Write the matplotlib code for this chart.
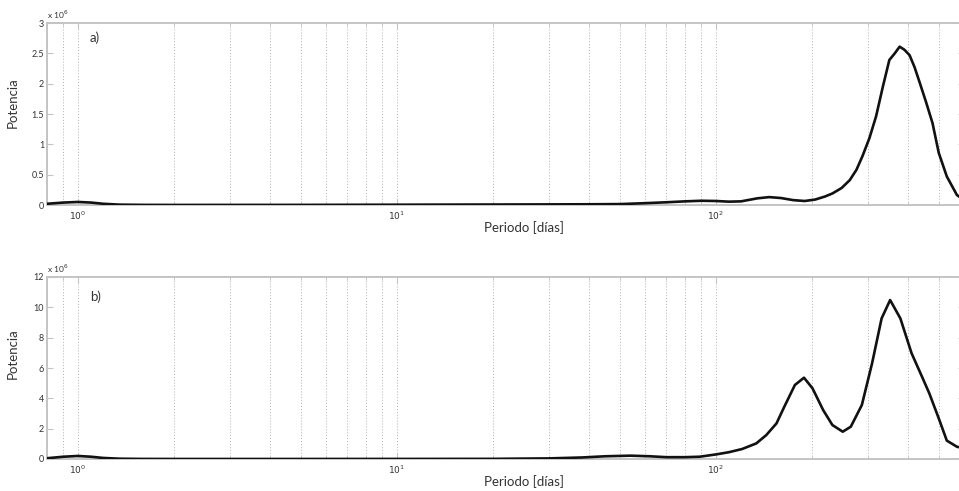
import matplotlib
matplotlib.use("Agg")
import matplotlib.pyplot as plt
from matplotlib.ticker import LogLocator, FixedLocator, FuncFormatter, NullFormatter
import numpy as np

plt.rcParams['font.family'] = ['Lato', 'DejaVu Sans']

# Panel a) : period [days] and power (x 1e6)
periodo_a = [0.8, 0.9, 1.0, 1.1, 1.2, 1.35, 1.6, 2, 5, 10, 20, 30, 40, 50, 60, 70, 80, 90,
             100, 110, 120, 135, 147, 160, 175, 190, 205, 220, 232, 248, 263, 276, 288, 303,
             318, 334, 350, 364, 377, 390, 405, 420, 435, 456, 478, 500, 530, 570, 600]
potencia_a = [0.02, 0.04, 0.05, 0.04, 0.02, 0.006, 0.002, 0.001, 0.002, 0.005, 0.008, 0.01, 0.012,
              0.015, 0.03, 0.045, 0.06, 0.07, 0.066, 0.055, 0.06, 0.11, 0.13, 0.115, 0.08, 0.066,
              0.09, 0.14, 0.19, 0.28, 0.41, 0.58, 0.80, 1.10, 1.46, 1.95, 2.39, 2.50, 2.61, 2.56,
              2.47, 2.27, 2.03, 1.70, 1.35, 0.86, 0.47, 0.165, 0.08]

# Panel b)
periodo_b = [0.8, 0.9, 1.0, 1.1, 1.2, 1.35, 1.6, 2, 5, 10, 20, 30, 38, 45, 54, 62, 70, 80, 89,
             100, 110, 121, 134, 144, 155, 164, 177, 189, 201, 217, 232, 250, 265, 287, 309,
             331, 352, 379, 411, 443, 467, 500, 530, 570, 600]
potencia_b = [0.05, 0.15, 0.2, 0.15, 0.07, 0.02, 0.005, 0.002, 0.002, 0.005, 0.01, 0.04, 0.1,
              0.18, 0.22, 0.18, 0.12, 0.12, 0.15, 0.3, 0.45, 0.66, 1.03, 1.58, 2.35, 3.45, 4.88,
              5.36, 4.66, 3.23, 2.24, 1.80, 2.13, 3.56, 6.31, 9.27, 10.48, 9.27, 6.97, 5.43,
              4.33, 2.68, 1.21, 0.81, 0.7]

yticks_a = [0, 0.5, 1, 1.5, 2, 2.5, 3]
yticks_b = [0, 2, 4, 6, 8, 10, 12]
xmajor = [1, 10, 100]
xlim = (0.8, 600)

W, H = 959, 491
fig = plt.figure(figsize=(W / 100, H / 100), dpi=100)

spine_c = '#c4c4c4'
text_c = '#333333'

def panel(rect, x, y, yticks, tag, ylab_y, tag_y):
    ax = fig.add_axes(rect)
    ax.plot(x, y, color='#111111', lw=1.9, zorder=3, clip_on=True)
    ax.set_xscale('log')
    ax.set_xlim(*xlim)
    ax.set_ylim(yticks[0], yticks[-1])
    ax.xaxis.set_major_locator(FixedLocator(xmajor))
    ax.xaxis.set_minor_locator(LogLocator(base=10, subs=np.arange(2, 10) / 1.0, numticks=20))
    ax.xaxis.set_minor_formatter(NullFormatter())
    ax.xaxis.set_major_formatter(FuncFormatter(lambda v, p: r'$10^{%d}$' % round(np.log10(v))))
    ax.set_yticks(yticks)
    ax.set_yticklabels([('%g' % t) for t in yticks])
    ax.grid(True, which='both', axis='x', linestyle=(0, (1, 2)), color='#b0b0b0', lw=0.7)
    for s in ax.spines.values():
        s.set_color(spine_c)
        s.set_linewidth(1.4)
    ax.tick_params(axis='both', which='both', direction='in', colors=spine_c,
                   labelcolor=text_c, labelsize=6.5, top=True, right=True)
    ax.tick_params(axis='y', length=4, pad=2)
    ax.tick_params(axis='x', which='major', length=4, pad=3)
    ax.tick_params(axis='x', which='minor', length=2)
    ax.set_xlabel('Periodo [días]', fontsize=9.5, color=text_c)
    ax.xaxis.set_label_coords(0.52, -0.09)
    ax.set_ylabel('Potencia', fontsize=9.5, color=text_c)
    ax.yaxis.set_label_coords(-0.031, ylab_y)
    ax.text(0.047, tag_y, tag, transform=ax.transAxes, fontsize=9.5, color=text_c,
            ha='left', va='center')
    ax.text(0.0, 1.012, r'x 10$^{6}$', transform=ax.transAxes, fontsize=6,
            color=text_c, ha='left', va='bottom')
    return ax

left = 47 / W
width = (964 - 47) / W
hgt = 182 / H
panel([left, 1 - 205 / H, width, hgt], periodo_a, potencia_a, yticks_a, 'a)', 0.56, 0.92)
panel([left, 1 - 459 / H, width, hgt], periodo_b, potencia_b, yticks_b, 'b)', 0.577, 0.89)

fig.savefig('out.png', dpi=100, facecolor='white')
